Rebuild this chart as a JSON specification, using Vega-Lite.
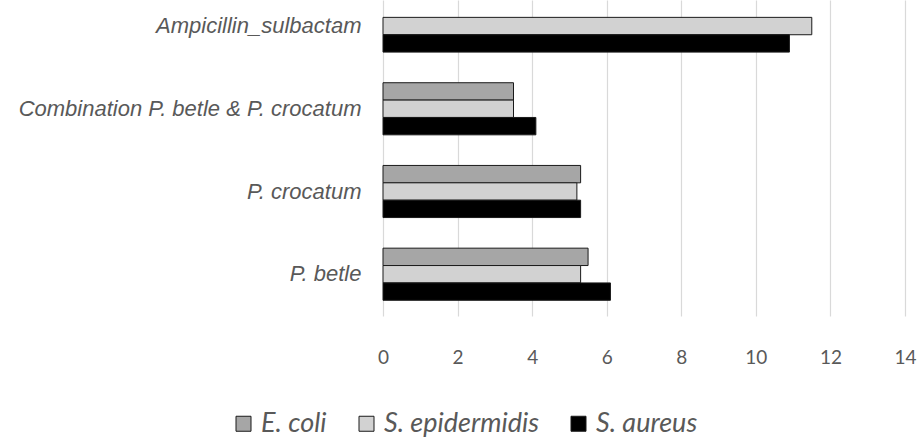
{
  "$schema": "https://vega.github.io/schema/vega-lite/v6.json",
  "autosize": {"type": "none"},
  "width": 522,
  "height": 316,
  "padding": {"left": 383, "top": 0, "right": 14, "bottom": 123},
  "background": "white",
  "data": {
    "values": [
      {"agent": "Ampicillin_sulbactam", "bacteria": "S. epidermidis", "zone": 11.5},
      {"agent": "Ampicillin_sulbactam", "bacteria": "S. aureus", "zone": 10.9},
      {"agent": "Combination P. betle & P. crocatum", "bacteria": "E. coli", "zone": 3.5},
      {"agent": "Combination P. betle & P. crocatum", "bacteria": "S. epidermidis", "zone": 3.5},
      {"agent": "Combination P. betle & P. crocatum", "bacteria": "S. aureus", "zone": 4.1},
      {"agent": "P. crocatum", "bacteria": "E. coli", "zone": 5.3},
      {"agent": "P. crocatum", "bacteria": "S. epidermidis", "zone": 5.2},
      {"agent": "P. crocatum", "bacteria": "S. aureus", "zone": 5.3},
      {"agent": "P. betle", "bacteria": "E. coli", "zone": 5.5},
      {"agent": "P. betle", "bacteria": "S. epidermidis", "zone": 5.3},
      {"agent": "P. betle", "bacteria": "S. aureus", "zone": 6.1}
    ]
  },
  "mark": {"type": "bar", "stroke": "#1a1a1a", "strokeWidth": 1},
  "encoding": {
    "y": {
      "field": "agent",
      "type": "nominal",
      "sort": ["Ampicillin_sulbactam", "Combination P. betle & P. crocatum", "P. crocatum", "P. betle"],
      "scale": {"paddingInner": 0.37, "paddingOuter": 0.095, "align": 0},
      "axis": {
        "title": null,
        "domain": false,
        "ticks": false,
        "labelPadding": 22,
        "labelFont": "Liberation Sans",
        "labelFontStyle": "italic",
        "labelFontSize": 22,
        "labelColor": "#595959",
        "labelLimit": 400
      }
    },
    "yOffset": {
      "field": "bacteria",
      "type": "nominal",
      "sort": ["E. coli", "S. epidermidis", "S. aureus"],
      "scale": {"domain": ["E. coli", "S. epidermidis", "S. aureus"], "paddingInner": 0, "paddingOuter": 0}
    },
    "x": {
      "field": "zone",
      "type": "quantitative",
      "scale": {"domain": [0, 14], "nice": false},
      "axis": {
        "title": null,
        "values": [0, 2, 4, 6, 8, 10, 12, 14],
        "domain": false,
        "ticks": false,
        "labelFlush": false,
        "labelPadding": 32,
        "labelFont": "Lato",
        "labelFontSize": 19,
        "labelColor": "#595959",
        "gridColor": "#d9d9d9",
        "gridWidth": 1.2
      }
    },
    "fill": {
      "field": "bacteria",
      "type": "nominal",
      "scale": {
        "domain": ["E. coli", "S. epidermidis", "S. aureus"],
        "range": ["#a6a6a6", "#d2d2d2", "#000000"]
      },
      "legend": {
        "title": null,
        "orient": "none",
        "direction": "horizontal",
        "legendX": -153,
        "legendY": 410,
        "symbolType": "square",
        "symbolSize": 225,
        "symbolStrokeColor": "#1a1a1a",
        "symbolStrokeWidth": 1,
        "labelFont": "Lato",
        "labelFontStyle": "italic",
        "labelFontSize": 27,
        "labelColor": "#595959",
        "labelOffset": 4,
        "columnPadding": 26,
        "labelLimit": 300
      }
    }
  },
  "config": {"view": {"stroke": null}}
}
